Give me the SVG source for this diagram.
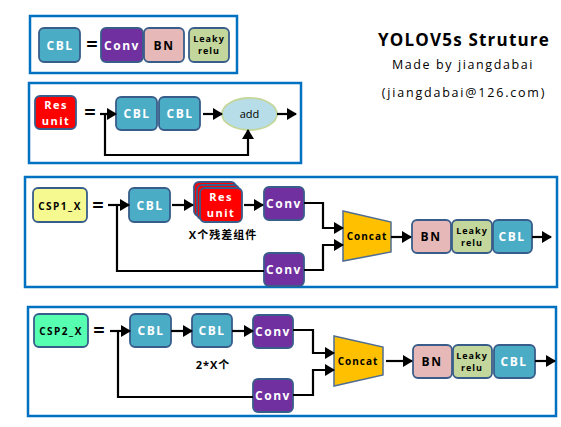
<svg xmlns="http://www.w3.org/2000/svg" width="561" height="427" viewBox="0 0 561 427">
<defs>
<marker id="ah" markerUnits="userSpaceOnUse" markerWidth="10" markerHeight="12" refX="9" refY="6" orient="auto">
<path d="M0,0 L10,6 L0,12 Z" fill="#000"/>
</marker>
<style>
.frame{fill:#fff;stroke:#0070c0;stroke-width:2.5}
.n{stroke:#385d8a;stroke-width:1.8}
.cbl{fill:#4bacc6}
.conv{fill:#7030a0}
.bn{fill:#e6b9b8}
.lr{fill:#c3d69b}
.res{fill:#ff0000}
.cc{fill:#ffc000;stroke:#4f6d93;stroke-width:1.5}
.wt{font-family:"Open Sans","Noto Sans",sans-serif;font-weight:bold;fill:#fff;font-size:12px;letter-spacing:1.5px;text-anchor:middle}
.rt{font-family:"Open Sans","Noto Sans",sans-serif;font-weight:bold;fill:#fff;font-size:11px;letter-spacing:1.5px;text-anchor:middle}
.bt{font-family:"Open Sans","Noto Sans",sans-serif;font-weight:bold;fill:#000;font-size:12px;letter-spacing:1.5px;text-anchor:middle}
.st{font-family:"Open Sans","Noto Sans",sans-serif;font-weight:bold;fill:#000;font-size:9px;letter-spacing:1px;text-anchor:middle}
.eq{font-family:"Open Sans","Noto Sans",sans-serif;font-weight:bold;fill:#000;font-size:20px;text-anchor:middle}
.ln{fill:none;stroke:#000;stroke-width:2.2}
.ar{fill:none;stroke:#000;stroke-width:2.2;marker-end:url(#ah)}
.cjk{font-family:"Open Sans","Noto Sans CJK SC",sans-serif;font-weight:bold;fill:#000;font-size:11px;letter-spacing:1px;text-anchor:middle}
</style>
</defs>

<!-- frames -->
<rect class="frame" x="30" y="16" width="207" height="57"/>
<rect class="frame" x="29" y="83" width="272" height="80"/>
<rect class="frame" x="25" y="177" width="532" height="110"/>
<rect class="frame" x="28" y="307" width="528" height="109"/>

<!-- title -->
<g id="title">
<text x="464" y="46" font-family="'Open Sans','Noto Sans',sans-serif" font-weight="bold" font-size="17" letter-spacing="1.2" text-anchor="middle">YOLOV5s Struture</text>
<text x="463" y="69" font-family="'Open Sans','Noto Sans',sans-serif" font-size="12.5" letter-spacing="1.6" text-anchor="middle">Made by jiangdabai</text>
<text x="464" y="97" font-family="'Open Sans','Noto Sans',sans-serif" font-size="12.5" letter-spacing="1.8" text-anchor="middle">(jiangdabai@126.com)</text>
</g>

<!-- Row 1: CBL definition -->
<g id="cbl-def">
<rect class="n cbl" x="39" y="28" width="41" height="34" rx="5"/>
<text class="wt" x="60" y="50">CBL</text>
</g>
<text class="eq" x="92" y="51">=</text>
<g id="r1-conv"><rect class="n conv" x="101" y="28" width="42" height="34" rx="5"/><text class="wt" x="122" y="50">Conv</text></g>
<g id="r1-bn"><rect class="n bn" x="144" y="28" width="40" height="34" rx="5"/><text class="bt" x="164" y="50">BN</text></g>
<g id="r1-lr"><rect class="n lr" x="189" y="28" width="40" height="34" rx="5"/><text class="st" x="209" y="42">Leaky</text><text class="st" x="209" y="54">relu</text></g>

<!-- Row 2: Res unit -->
<g id="res-def"><rect class="n res" x="35" y="96" width="41" height="33" rx="5"/><text class="rt" x="56" y="109">Res</text><text class="rt" x="56" y="125">unit</text></g>
<text class="eq" x="90" y="119">=</text>
<g id="r2-cbl1"><rect class="n cbl" x="116" y="97" width="41" height="33" rx="5"/><text class="wt" x="137" y="118">CBL</text></g>
<g id="r2-cbl2"><rect class="n cbl" x="159" y="97" width="41" height="33" rx="5"/><text class="wt" x="180" y="118">CBL</text></g>
<g id="r2-add"><ellipse cx="249.5" cy="114" rx="27.5" ry="16" fill="#b7dee8" stroke="#c3d69b" stroke-width="1.8"/><text x="249.5" y="118" font-family="'Open Sans','Noto Sans',sans-serif" font-size="11" text-anchor="middle">add</text></g>

<!-- Row 3: CSP1_X -->
<g id="csp1-def"><rect class="n" fill="#f5f98f" x="33" y="188" width="54" height="34" rx="5"/><text class="bt" x="60" y="210" style="font-size:10px">CSP1_X</text></g>
<text class="eq" x="98" y="212">=</text>
<g id="r3-cbl"><rect class="n cbl" x="129" y="188" width="41" height="34" rx="5"/><text class="wt" x="150" y="210">CBL</text></g>
<g id="r3-res">
<rect class="n res" x="194" y="182" width="42" height="34" rx="5"/>
<rect class="n res" x="197" y="185" width="42" height="34" rx="5"/>
<rect class="n res" x="200" y="188" width="42" height="34" rx="5"/>
<text class="rt" x="221" y="201">Res</text><text class="rt" x="221" y="217">unit</text>
</g>
<text class="cjk" x="223" y="239">X个残差组件</text>
<g id="r3-conv1"><rect class="n conv" x="264" y="187" width="40" height="33" rx="5"/><text class="wt" x="284" y="208">Conv</text></g>
<g id="r3-conv2"><rect class="n conv" x="264" y="253" width="40" height="33" rx="5"/><text class="wt" x="284" y="274">Conv</text></g>
<g id="r3-concat"><path class="cc" d="M343,211 L391,222 L391,252 L343,261 Z"/><text class="bt" x="367" y="240" style="font-size:10px;letter-spacing:1px">Concat</text></g>
<g id="r3-bn"><rect class="n bn" x="412" y="220" width="39" height="33" rx="5"/><text class="bt" x="431" y="241">BN</text></g>
<g id="r3-lr"><rect class="n lr" x="452" y="220" width="40" height="33" rx="5"/><text class="st" x="472" y="234">Leaky</text><text class="st" x="472" y="246">relu</text></g>
<g id="r3-cbl2"><rect class="n cbl" x="493" y="220" width="39" height="33" rx="5"/><text class="wt" x="512" y="241">CBL</text></g>

<!-- Row 4: CSP2_X -->
<g id="csp2-def"><rect class="n" fill="#57ffb0" x="34" y="314" width="54" height="33" rx="5"/><text class="bt" x="61" y="335" style="font-size:10px">CSP2_X</text></g>
<text class="eq" x="99" y="337">=</text>
<g id="r4-cbl1"><rect class="n cbl" x="130" y="314" width="41" height="33" rx="5"/><text class="wt" x="151" y="335">CBL</text></g>
<g id="r4-cbl2"><rect class="n cbl" x="192" y="314" width="40" height="33" rx="5"/><text class="wt" x="212" y="335">CBL</text></g>
<text class="cjk" x="213" y="369">2*X个</text>
<g id="r4-conv1"><rect class="n conv" x="253" y="315" width="40" height="33" rx="5"/><text class="wt" x="273" y="336">Conv</text></g>
<g id="r4-conv2"><rect class="n conv" x="253" y="379" width="40" height="33" rx="5"/><text class="wt" x="273" y="400">Conv</text></g>
<g id="r4-concat"><path class="cc" d="M334,336 L383,347 L383,375 L334,386 Z"/><text class="bt" x="358" y="365" style="font-size:10px;letter-spacing:1px">Concat</text></g>
<g id="r4-bn"><rect class="n bn" x="413" y="345" width="39" height="33" rx="5"/><text class="bt" x="432" y="366">BN</text></g>
<g id="r4-lr"><rect class="n lr" x="453" y="345" width="39" height="33" rx="5"/><text class="st" x="472" y="359">Leaky</text><text class="st" x="472" y="371">relu</text></g>
<g id="r4-cbl3"><rect class="n cbl" x="494" y="345" width="41" height="33" rx="5"/><text class="wt" x="514" y="366">CBL</text></g>

<!-- connectors -->
<g id="connectors">
<path class="ar" d="M100,114 L116,114"/>
<path class="ar" d="M203,114 L222,114"/>
<path class="ar" d="M277,114 L296,114"/>
<path class="ar" d="M105,114 L105,155 L248,155 L248,130"/>

<path class="ar" d="M108,205 L129,205"/>
<path class="ar" d="M172,205 L193,205"/>
<path class="ar" d="M244,205 L263,205"/>
<path class="ln" d="M117,205 L117,271 L264,271"/>
<path class="ar" d="M304,203 L323,203 L323,228 L343,228"/>
<path class="ar" d="M304,270 L323,270 L323,245 L343,245"/>
<path class="ar" d="M391,237 L411,237"/>
<path class="ar" d="M532,237 L551,237"/>

<path class="ar" d="M110,331 L130,331"/>
<path class="ar" d="M171,331 L192,331"/>
<path class="ar" d="M232,331 L253,331"/>
<path class="ln" d="M118,331 L118,397 L253,397"/>
<path class="ar" d="M293,330 L313,330 L313,353 L334,353"/>
<path class="ar" d="M293,395 L313,395 L313,370 L334,370"/>
<path class="ar" d="M386,361 L412,361"/>
<path class="ar" d="M535,361 L555,361"/>
</g>
</svg>
